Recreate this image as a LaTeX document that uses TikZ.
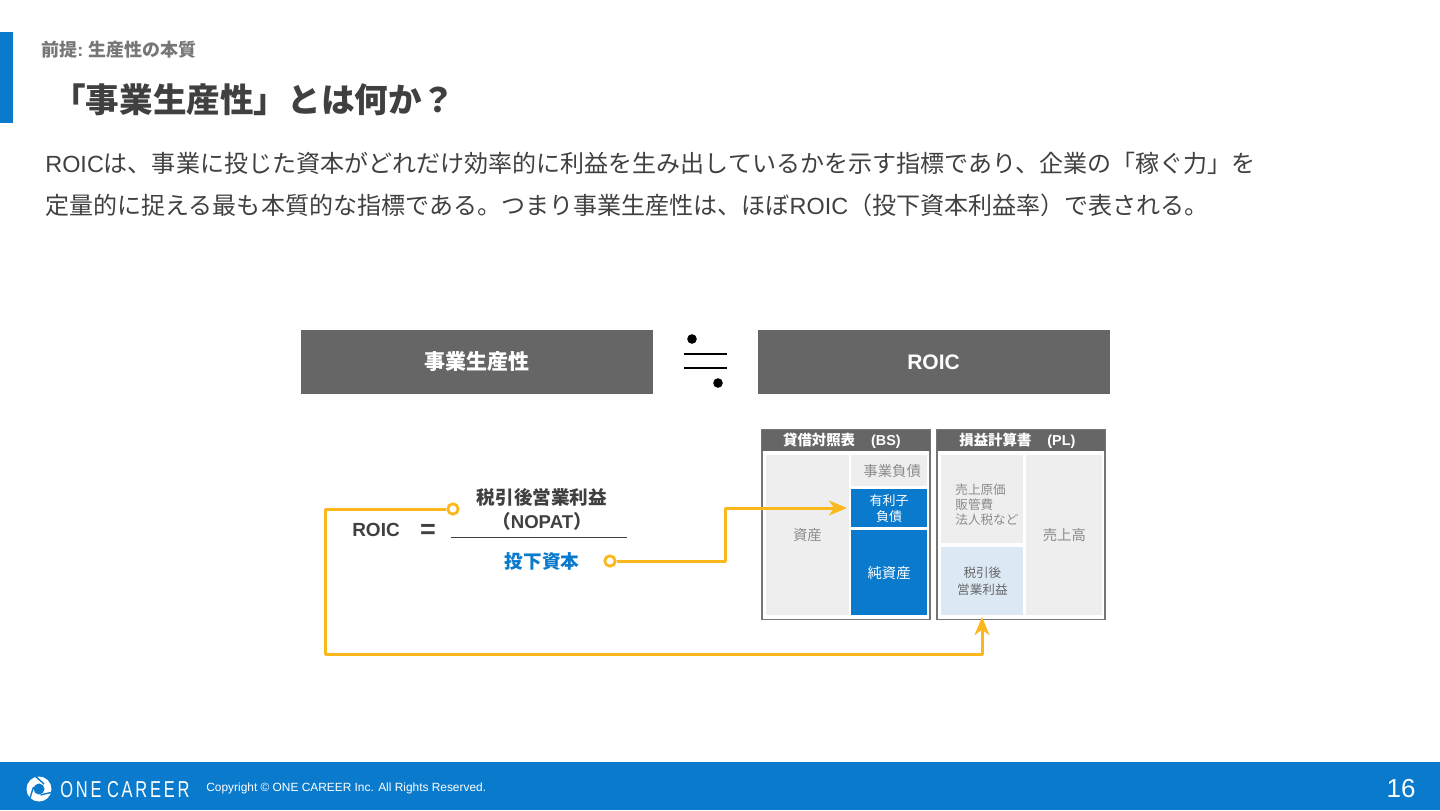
\documentclass[tikz,border=0pt]{standalone}
\usepackage{fontspec}
\setmainfont{Noto Sans CJK JP}
\newfontfamily\latinfont{Liberation Sans}
\usetikzlibrary{positioning,arrows.meta}
\definecolor{oneblue}{HTML}{0A7ACC}
\definecolor{palegrey}{HTML}{EEEEEE}
\definecolor{paleblue}{HTML}{DCE9F5}
\definecolor{headgrey}{HTML}{666666}
\definecolor{textgrey}{HTML}{404040}
\definecolor{softgrey}{HTML}{8C8C8C}
\definecolor{linkyellow}{HTML}{FBB81C}
\tikzset{
  txt/.style = {inner sep=0pt, align=center, text=textgrey, font=\fontsize{9.5}{12}\selectfont},
  headbox/.style = {fill=headgrey, text=white, align=center, inner sep=0pt, font=\fontsize{10.5}{12}\selectfont\bfseries},
  tabhead/.style = {fill=headgrey, text=white, align=center, inner sep=0pt, font=\fontsize{7.2}{8}\selectfont\bfseries},
  tabframe/.style = {draw=headgrey!90, line width=0.7pt},
  cellg/.style = {fill=palegrey, text=softgrey, align=center, inner sep=0pt, font=\fontsize{7.2}{9}\selectfont},
  cellb/.style = {fill=oneblue, text=white, align=center, inner sep=0pt, font=\fontsize{7.2}{8}\selectfont},
  celll/.style = {fill=paleblue, text=textgrey!80, align=center, inner sep=0pt, font=\fontsize{6.3}{8.4}\selectfont},
  link/.style = {draw=linkyellow, line width=1.5pt, line join=round},
  ringdot/.style = {circle, draw=linkyellow, fill=white, line width=1.4pt, minimum size=5.2pt, inner sep=0pt},
  tipped/.style = {-{Stealth[length=9pt,width=7.4pt,inset=2.6pt]}},
}
\newcommand{\boxat}[6][cellg]{\node[#1, minimum width=#4*0.5pt, minimum height=#5*0.5pt, anchor=north west] (#2) at (#3) {#6};}
\begin{document}
\begin{tikzpicture}[x=0.5pt, y=-0.5pt]
\useasboundingbox (0,0) rectangle (1440,810);
% title area
\fill[oneblue] (0,32) rectangle (13,123);
\node[txt, anchor=west, text=softgrey!85!black, font=\fontsize{9}{10}\selectfont\bfseries] (section) at (41,50) {前提{\latinfont\bfseries :} 生産性の本質};
\node[txt, anchor=west, font=\fontsize{16.8}{20}\selectfont\bfseries] (title) at (52,100) {「事業生産性」とは何か？};
\node[txt, anchor=west, font=\fontsize{12.02}{14}\selectfont] (lead1) at (45,163) {{\latinfont\fontsize{11.7}{14}\selectfont ROIC}は、事業に投じた資本がどれだけ効率的に利益を生み出しているかを示す指標であり、企業の「稼ぐ力」を};
\node[txt, anchor=west, font=\fontsize{12.02}{14}\selectfont] (lead2) at (45,205) {定量的に捉える最も本質的な指標である。つまり事業生産性は、ほぼ{\latinfont\fontsize{11.7}{14}\selectfont ROIC}（投下資本利益率）で表される。};
% top row
\node[headbox, minimum width=176pt, minimum height=32pt] (prod) at (477,362) {事業生産性};
\node[headbox, minimum width=176pt, minimum height=32pt] (roic) at (933.5,362) {{\latinfont\bfseries ROIC}};
\coordinate (nearL1) at (684,354);
\coordinate (nearR1) at (727,354);
\coordinate (nearL2) at (684,368);
\coordinate (nearR2) at (727,368);
\draw[black, line width=1.4pt] (nearL1) -- (nearR1);
\draw[black, line width=1.4pt] (nearL2) -- (nearR2);
\fill[black] (692,339) circle (4.8);
\fill[black] (718,383) circle (4.8);
% balance sheet
\draw[tabframe] (762,430) rectangle (930,619.5);
\node[tabhead, minimum width=84pt, minimum height=10.5pt, anchor=north west] (bshead) at (762,430) {貸借対照表\hspace{8pt}{\latinfont\bfseries (BS)}\hspace{4.5pt}};
\boxat{asset}{765.5,455}{83}{160}{資産}
\boxat{oplia}{851,455}{75.5}{31}{\hspace*{3pt}事業負債}
\boxat[cellb]{debt}{851,489}{75.5}{38}{\fontsize{6.5}{7.6}\selectfont 有利子\\\fontsize{6.5}{7.6}\selectfont 負債}
\boxat[cellb]{equity}{851,530}{75.5}{85}{純資産}
% income statement
\draw[tabframe] (937,430) rectangle (1105,619.5);
\node[tabhead, minimum width=84pt, minimum height=10.5pt, anchor=north west] (plhead) at (937,430) {損益計算書\hspace{8pt}{\latinfont\bfseries (PL)}\hspace{4pt}};
\boxat{cost}{941,455}{82}{88}{}
\node[txt, anchor=west, align=left, text=softgrey, font=\fontsize{6.3}{7.4}\selectfont] (costtext) at (955,504.5) {売上原価\\販管費\\法人税など};
\boxat[celll]{nopatbox}{941,546.5}{82}{68.5}{税引後\\営業利益}
\boxat{sales}{1026,455}{76}{160}{売上高}
% formula
\node[txt, font=\fontsize{9.5}{12}\selectfont\bfseries] (roiclabel) at (376,530) {{\latinfont\bfseries ROIC}};
\node[txt, font=\fontsize{13.5}{12}\selectfont] (equals) at (428,531.5) {{\latinfont\bfseries =}};
\node[txt, font=\fontsize{9.3}{12}\selectfont\bfseries] (nopat) at (542,509) {税引後営業利益\\{（\latinfont\bfseries NOPAT}）};
\node[txt, text=oneblue, font=\fontsize{9.3}{12}\selectfont\bfseries] (invested) at (542,561) {投下資本};
\coordinate (fracL) at (451,537.5);
\coordinate (fracR) at (627,537.5);
\draw[textgrey, line width=0.6pt] (fracL) -- (fracR);
% links
\node[ringdot] (ringtop) at (453,509) {};
\node[ringdot] (ringbot) at (610,561) {};
\coordinate (debtin) at (847,508);
\coordinate (plin) at (982,617);
\draw[link, tipped] (ringbot) -- (725,561) -- (725,508) -- (debtin);
\draw[link, tipped] (ringtop) -- (325,509) -- (325,654) -- (982,654) -- (plin);
% footer
\fill[oneblue] (0,762) rectangle (1440,810);
\fill[white] (39,789) circle (12.5);
\fill[oneblue] (39,789) circle (5.5);
\draw[oneblue, line width=0.7pt] (44,784) -- (34,775) (40.5,795) -- (53,792) (33.5,787) -- (29,801);
\node[txt, text=white, anchor=west, font=\latinfont\fontsize{11.5}{13}\selectfont] (brand) at (60,789.5) {\scalebox{0.716}[1]{O\,N\,E\,\,C\,A\,R\,E\,E\,R}};
\node[txt, text=white, anchor=west, font=\latinfont\fontsize{5.95}{8}\selectfont] (copy) at (206,788) {Copyright © ONE CAREER Inc. All Rights Reserved.};
\node[txt, text=white, anchor=east, font=\latinfont\fontsize{13}{14}\selectfont] (page) at (1416,789) {16};
\end{tikzpicture}
\end{document}
